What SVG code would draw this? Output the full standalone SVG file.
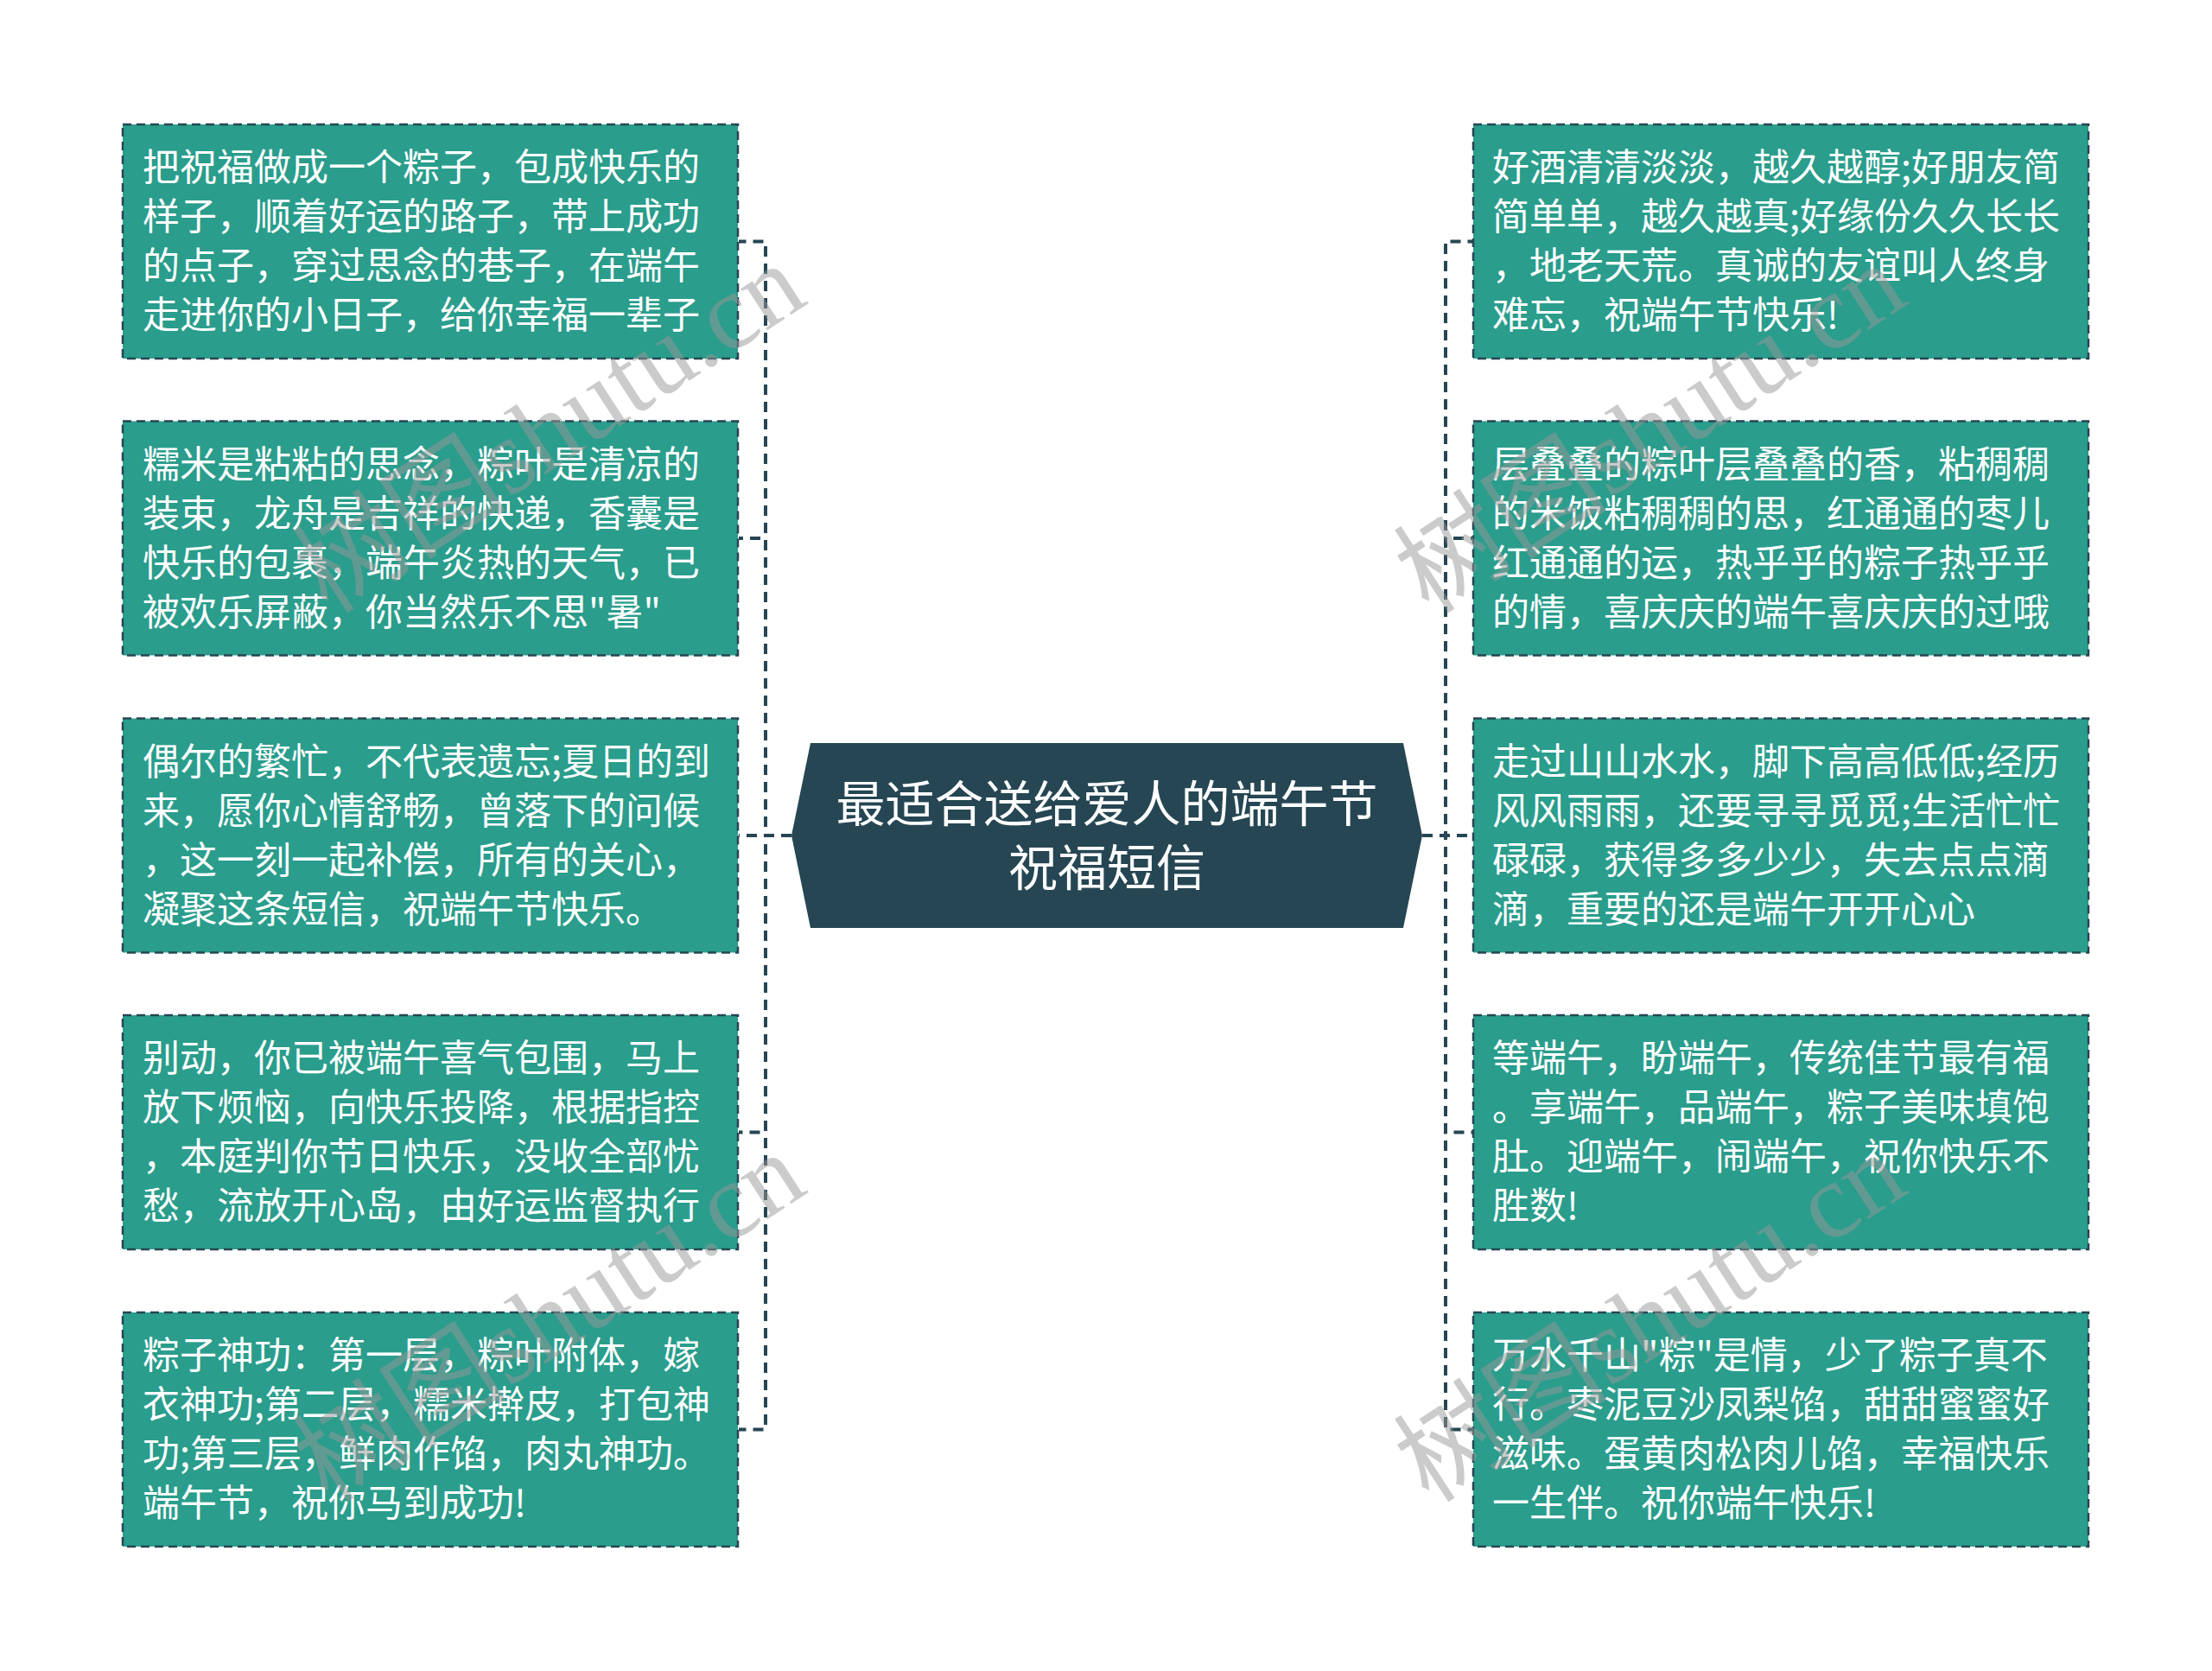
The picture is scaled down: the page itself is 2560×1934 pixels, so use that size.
<svg xmlns="http://www.w3.org/2000/svg" width="2560" height="1934" viewBox="0 0 2560 1934">
<style>
.box{fill:#2a9d8c;stroke:#264653;stroke-width:2.5;stroke-dasharray:10 6}
.t{font-family:"Noto Sans CJK SC","Noto Sans",sans-serif;font-size:43px;fill:#ffffff}
.ct{font-family:"Noto Sans CJK SC","Noto Sans",sans-serif;font-size:57px;fill:#ffffff;text-anchor:middle}
.conn{fill:none;stroke:#264653;stroke-width:4;stroke-dasharray:12 8}
.wm{font-family:"Liberation Serif","Noto Sans CJK SC",serif;font-size:124px;fill:#999999;opacity:0.5}
</style>
<rect width="2560" height="1934" fill="#ffffff"/>
<g id="connectors">
<path class="conn" d="M916,967 H886 V279.5 H855"/>
<path class="conn" d="M916,967 H886 V623 H855"/>
<path class="conn" d="M916,967 H855"/>
<path class="conn" d="M916,967 H886 V1310.5 H855"/>
<path class="conn" d="M916,967 H886 V1654.5 H855"/>
<path class="conn" d="M1646,967 H1673 V279.5 H1705"/>
<path class="conn" d="M1646,967 H1673 V623 H1705"/>
<path class="conn" d="M1646,967 H1705"/>
<path class="conn" d="M1646,967 H1673 V1310.5 H1705"/>
<path class="conn" d="M1646,967 H1673 V1654.5 H1705"/>
</g>
<g id="center">
<polygon points="916,967 938,860 1624,860 1646,967 1624,1074 938,1074" fill="#264653"/>
<text class="ct" x="1281" y="951">最适合送给爱人的端午节</text>
<text class="ct" x="1281" y="1025">祝福短信</text>
</g>
<g id="L1">
<rect class="box" x="142" y="144" width="712" height="271"/>
<text class="t" x="165"><tspan x="165" y="209">把祝福做成一个粽子，包成快乐的</tspan><tspan x="165" y="266">样子，顺着好运的路子，带上成功</tspan><tspan x="165" y="323">的点子，穿过思念的巷子，在端午</tspan><tspan x="165" y="380">走进你的小日子，给你幸福一辈子</tspan></text>
</g>
<g id="L2">
<rect class="box" x="142" y="487.5" width="712" height="271"/>
<text class="t" x="165"><tspan x="165" y="552.5">糯米是粘粘的思念，粽叶是清凉的</tspan><tspan x="165" y="609.5">装束，龙舟是吉祥的快递，香囊是</tspan><tspan x="165" y="666.5">快乐的包裹，端午炎热的天气，已</tspan><tspan x="165" y="723.5">被欢乐屏蔽，你当然乐不思"暑"</tspan></text>
</g>
<g id="L3">
<rect class="box" x="142" y="831.5" width="712" height="271"/>
<text class="t" x="165"><tspan x="165" y="896.5">偶尔的繁忙，不代表遗忘;夏日的到</tspan><tspan x="165" y="953.5">来，愿你心情舒畅，曾落下的问候</tspan><tspan x="165" y="1010.5">，这一刻一起补偿，所有的关心，</tspan><tspan x="165" y="1067.5">凝聚这条短信，祝端午节快乐。</tspan></text>
</g>
<g id="L4">
<rect class="box" x="142" y="1175" width="712" height="271"/>
<text class="t" x="165"><tspan x="165" y="1240">别动，你已被端午喜气包围，马上</tspan><tspan x="165" y="1297">放下烦恼，向快乐投降，根据指控</tspan><tspan x="165" y="1354">，本庭判你节日快乐，没收全部忧</tspan><tspan x="165" y="1411">愁，流放开心岛，由好运监督执行</tspan></text>
</g>
<g id="L5">
<rect class="box" x="142" y="1519" width="712" height="271"/>
<text class="t" x="165"><tspan x="165" y="1584">粽子神功：第一层，粽叶附体，嫁</tspan><tspan x="165" y="1641">衣神功;第二层，糯米擀皮，打包神</tspan><tspan x="165" y="1698">功;第三层，鲜肉作馅，肉丸神功。</tspan><tspan x="165" y="1755">端午节，祝你马到成功!</tspan></text>
</g>
<g id="R1">
<rect class="box" x="1705" y="144" width="712" height="271"/>
<text class="t" x="1727"><tspan x="1727" y="209">好酒清清淡淡，越久越醇;好朋友简</tspan><tspan x="1727" y="266">简单单，越久越真;好缘份久久长长</tspan><tspan x="1727" y="323">，地老天荒。真诚的友谊叫人终身</tspan><tspan x="1727" y="380">难忘，祝端午节快乐!</tspan></text>
</g>
<g id="R2">
<rect class="box" x="1705" y="487.5" width="712" height="271"/>
<text class="t" x="1727"><tspan x="1727" y="552.5">层叠叠的粽叶层叠叠的香，粘稠稠</tspan><tspan x="1727" y="609.5">的米饭粘稠稠的思，红通通的枣儿</tspan><tspan x="1727" y="666.5">红通通的运，热乎乎的粽子热乎乎</tspan><tspan x="1727" y="723.5">的情，喜庆庆的端午喜庆庆的过哦</tspan></text>
</g>
<g id="R3">
<rect class="box" x="1705" y="831.5" width="712" height="271"/>
<text class="t" x="1727"><tspan x="1727" y="896.5">走过山山水水，脚下高高低低;经历</tspan><tspan x="1727" y="953.5">风风雨雨，还要寻寻觅觅;生活忙忙</tspan><tspan x="1727" y="1010.5">碌碌，获得多多少少，失去点点滴</tspan><tspan x="1727" y="1067.5">滴，重要的还是端午开开心心</tspan></text>
</g>
<g id="R4">
<rect class="box" x="1705" y="1175" width="712" height="271"/>
<text class="t" x="1727"><tspan x="1727" y="1240">等端午，盼端午，传统佳节最有福</tspan><tspan x="1727" y="1297">。享端午，品端午，粽子美味填饱</tspan><tspan x="1727" y="1354">肚。迎端午，闹端午，祝你快乐不</tspan><tspan x="1727" y="1411">胜数!</tspan></text>
</g>
<g id="R5">
<rect class="box" x="1705" y="1519" width="712" height="271"/>
<text class="t" x="1727"><tspan x="1727" y="1584">万水千山"粽"是情，少了粽子真不</tspan><tspan x="1727" y="1641">行。枣泥豆沙凤梨馅，甜甜蜜蜜好</tspan><tspan x="1727" y="1698">滋味。蛋黄肉松肉儿馅，幸福快乐</tspan><tspan x="1727" y="1755">一生伴。祝你端午快乐!</tspan></text>
</g>
<g id="watermarks">
<text class="wm" transform="translate(380,712) rotate(-33)">树图shutu.cn</text>
<text class="wm" transform="translate(1654,712) rotate(-33)">树图shutu.cn</text>
<text class="wm" transform="translate(380,1741) rotate(-33)">树图shutu.cn</text>
<text class="wm" transform="translate(1654,1741) rotate(-33)">树图shutu.cn</text>
</g>
</svg>
